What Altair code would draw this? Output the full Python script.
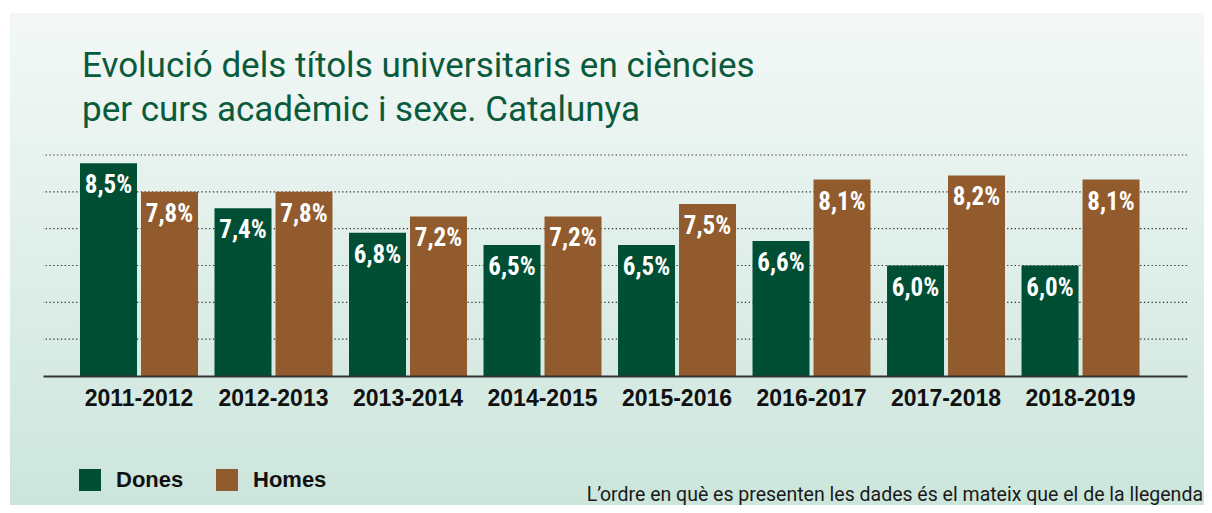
import altair as alt
import pandas as pd

years = ["2011-2012", "2012-2013", "2013-2014", "2014-2015",
         "2015-2016", "2016-2017", "2017-2018", "2018-2019"]
dones = [8.5, 7.4, 6.8, 6.5, 6.5, 6.6, 6.0, 6.0]
homes = [7.8, 7.8, 7.2, 7.2, 7.5, 8.1, 8.2, 8.1]
series = ["Dones", "Homes"]
colors = ["#004f35", "#925b2d"]
title_lines = ["Evolució dels títols universitaris en ciències",
               "per curs acadèmic i sexe. Catalunya"]
footnote = "L\u2019ordre en què es presenten les dades és el mateix que el de la llegenda"
grid_values = [4.2, 5.1, 6.0, 6.9, 7.8, 8.7]
y_min, y_max = 3.3, 8.7

rows = []
for i, y in enumerate(years):
    for s, v in zip(series, [dones[i], homes[i]]):
        rows.append({"curs": y, "sexe": s, "valor": v,
                     "etiqueta": f"{v:.1f}".replace(".", ",") + "%"})
df = pd.DataFrame(rows)

W, H = 1144, 221
narrow = "Liberation Sans Narrow, Roboto Condensed, Roboto, sans-serif"
boldf = "Liberation Sans, Arial, sans-serif"

yscale = alt.Scale(domain=[y_min, y_max], zero=False, nice=False)

bg = alt.Chart(pd.DataFrame({"a": [0]})).mark_rect(
    fill=alt.Gradient(gradient="linear", x1=0, y1=0, x2=0, y2=1,
                      stops=[alt.GradientStop(offset=0, color="#f3f8f6"),
                             alt.GradientStop(offset=1, color="#cbe5db")])
).encode(x=alt.value(-33), x2=alt.value(W + 30), y=alt.value(-142), y2=alt.value(H + 140))

title = alt.Chart(pd.DataFrame({"t": ["\n".join(title_lines)]})).mark_text(
    align="left", baseline="alphabetic", fontSize=35, font="Roboto, sans-serif",
    color="#0a5a3c", lineBreak="\n", lineHeight=44
).encode(x=alt.value(39), y=alt.value(-78), text="t:N")

grid = alt.Chart(pd.DataFrame({"valor": grid_values})).mark_rule(
    strokeDash=[1.3, 2.5], color="#333333", strokeWidth=1.2
).encode(y=alt.Y("valor:Q", scale=yscale, axis=None))

xenc = alt.X("curs:N", sort=years,
             scale=alt.Scale(paddingInner=0.1227, paddingOuter=0.314, align=0.438),
             axis=alt.Axis(title=None, labelAngle=0, ticks=False, labelFontSize=23,
                           labelFontWeight="bold", labelFont=boldf, labelColor="#111111",
                           labelPadding=11, domainColor="#333333", domainWidth=2,
                           grid=False, zindex=1))
xoff = alt.XOffset("sexe:N", sort=series, scale=alt.Scale(paddingInner=0.0656, paddingOuter=0))

bars = alt.Chart(df).mark_bar().encode(
    x=xenc,
    y=alt.Y("valor:Q", scale=yscale, axis=None),
    y2=alt.datum(y_min),
    xOffset=xoff,
    color=alt.Color("sexe:N", sort=series,
                    scale=alt.Scale(domain=series, range=colors),
                    legend=alt.Legend(title=None, orient="none", legendX=36, legendY=314,
                                      direction="horizontal", symbolType="square",
                                      symbolSize=484, symbolStrokeWidth=0, symbolOpacity=1,
                                      labelFontSize=22, labelFontWeight="bold",
                                      labelFont=boldf, labelColor="#111111",
                                      labelOffset=15, columnPadding=32, padding=0))
)

labels = alt.Chart(df).mark_text(
    color="white", fontSize=25, fontWeight="bold", font=narrow, baseline="middle", dy=22
).encode(x=alt.X("curs:N", sort=years), y=alt.Y("valor:Q", scale=yscale, axis=None),
         xOffset=alt.XOffset("sexe:N", sort=series), text="etiqueta:N")

foot = alt.Chart(pd.DataFrame({"t": [footnote]})).mark_text(
    align="right", baseline="alphabetic", fontSize=19.5, font="Roboto, sans-serif",
    color="#1a1a1a"
).encode(x=alt.value(W + 16), y=alt.value(346), text="t:N")

chart = alt.layer(bg, title, grid, bars, labels, foot).properties(
    width=W, height=H,
    autosize=alt.AutoSizeParams(type="none"),
    padding={"left": 35, "top": 147, "right": 17, "bottom": 129}
).configure_view(stroke=None).configure(background="white")

chart.save("out.html", embed_options={"renderer": "svg", "actions": False})
